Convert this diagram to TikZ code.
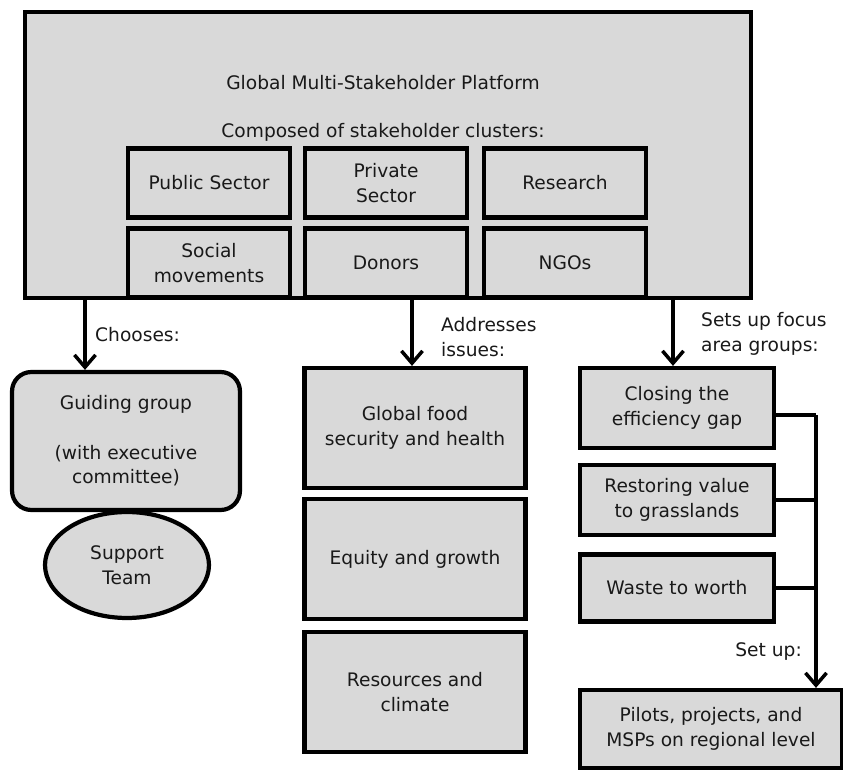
\documentclass[tikz,border=0pt]{standalone}
\usepackage{fontspec}
\setmainfont{DejaVu Sans}
\usetikzlibrary{arrows.meta,shapes.geometric}

\begin{document}
\begin{tikzpicture}[x=0.02cm, y=-0.02cm,
    every node/.style={font=\fontsize{10.6}{14}\selectfont, text=black!90},
    box/.style={draw, line width=2.4pt, fill=black!15, align=center, inner sep=2pt},
    cluster/.style={box, minimum width=3.24cm, minimum height=1.38cm},
    issue/.style={box, minimum width=4.42cm, minimum height=2.4cm},
    focus/.style={box, minimum width=3.88cm},
    lbl/.style={align=left},
    arr/.style={-{Straight Barb[length=7pt,width=12pt]}, line width=2pt},
    bus/.style={line width=2pt}]
    \useasboundingbox (0,0) rectangle (843,781);

    % platform with its clusters
    \node[box, minimum width=14.52cm, minimum height=5.72cm] (msp) at (388,155) {};
    \node (title) at (383,83) {Global Multi-Stakeholder Platform};
    \node (composed) at (383,132) {Composed of stakeholder clusters:};
    \node[cluster] (public) at (209,183) {Public Sector};
    \node[cluster] (private) at (386,183) {Private\\Sector};
    \node[cluster] (research) at (565,183) {Research};
    \node[cluster] (social) at (209,263) {Social\\movements};
    \node[cluster] (donors) at (386,263) {Donors};
    \node[cluster] (ngos) at (565,263) {NGOs};

    % guiding group
    \node[box, rounded corners=11pt, minimum width=4.56cm, minimum height=2.76cm] (guide) at (126,441)
        {Guiding group\\[14pt](with executive\\committee)};
    \node[box, ellipse, inner sep=0pt, minimum width=3.28cm, minimum height=2.12cm] (support) at (127,565)
        {Support\\Team};

    % issues
    \node[issue] (food) at (415,428) {Global food\\security and health};
    \node[issue] (equity) at (415,559) {Equity and growth};
    \node[issue] (climate) at (415,692) {Resources and\\climate};

    % focus area groups
    \node[focus, minimum height=1.6cm] (gap) at (677,408) {Closing the\\efficiency gap};
    \node[focus, minimum height=1.4cm] (grass) at (677,500) {Restoring value\\to grasslands};
    \node[focus, minimum height=1.34cm] (waste) at (677,588) {Waste to worth};
    \node[box, minimum width=5.24cm, minimum height=1.56cm] (pilots) at (711,729)
        {Pilots, projects, and\\MSPs on regional level};

    % labels
    \node[lbl, anchor=west] (chooses) at (89,335) {Chooses:};
    \node[lbl, anchor=west] (addresses) at (435,337) {Addresses\\issues:};
    \node[lbl, anchor=west] (setsup) at (695,334) {Sets up focus\\area groups:};
    \node[lbl, anchor=east] (setup) at (808,652) {Set up:};

    % connectors
    \coordinate (c1) at (85,298);
    \coordinate (c2) at (412,298);
    \coordinate (c3) at (673,298);
    \draw[arr] (c1) -- (c1 |- guide.north);
    \draw[arr] (c2) -- (c2 |- food.north);
    \draw[arr] (c3) -- (c3 |- gap.north);

    \coordinate (bustop) at (816,415);
    \draw[bus] (gap.east |- bustop) -- (bustop);
    \draw[bus] (grass.east) -- (grass.east -| bustop);
    \draw[bus] (waste.east) -- (waste.east -| bustop);
    \draw[arr] (bustop) -- (bustop |- pilots.north);
\end{tikzpicture}
\end{document}
